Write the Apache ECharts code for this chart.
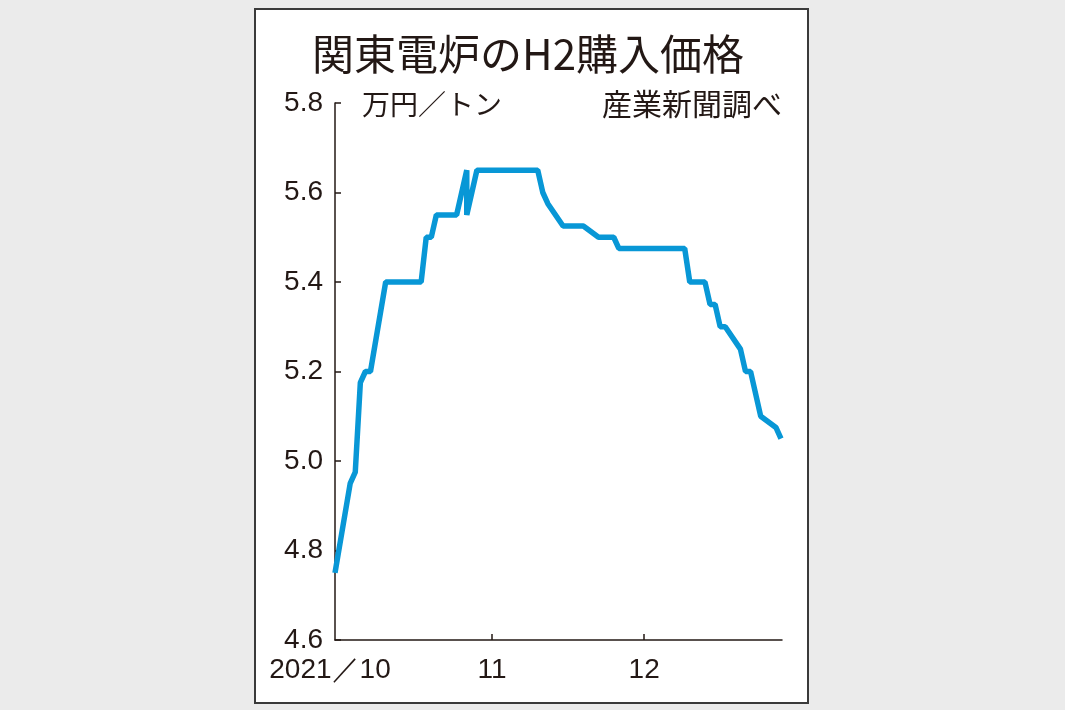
<!DOCTYPE html>
<html>
<head>
<meta charset="utf-8">
<script src="https://cdn.jsdelivr.net/npm/echarts@6/dist/echarts.min.js"></script>
<style>
html,body{margin:0;padding:0;background:#ebebeb;}
#c{width:1065px;height:710px;}
</style>
</head>
<body>
<div id="c"></div>
<script>
// ---- data ----
const dates = ['2021-10-01','2021-10-04','2021-10-05','2021-10-06','2021-10-07','2021-10-08','2021-10-11','2021-10-18','2021-10-19','2021-10-20','2021-10-21','2021-10-25','2021-10-27','2021-10-27','2021-10-29','2021-11-10','2021-11-11','2021-11-12','2021-11-15','2021-11-19','2021-11-22','2021-11-25','2021-11-26','2021-12-09','2021-12-10','2021-12-13','2021-12-14','2021-12-15','2021-12-16','2021-12-17','2021-12-20','2021-12-21','2021-12-22','2021-12-24','2021-12-27','2021-12-28'];
const prices = [4.75,4.95,4.975,5.175,5.2,5.2,5.4,5.4,5.5,5.5,5.55,5.55,5.65,5.55,5.65,5.65,5.6,5.575,5.525,5.525,5.5,5.5,5.475,5.475,5.4,5.4,5.35,5.35,5.3,5.3,5.25,5.2,5.2,5.1,5.075,5.05];
const monthTicks = ['2021-10-01','2021-11-01','2021-12-01'];
const monthLabels = ['2021／10','11','12'];
const xMin = '2021-10-01';
const xMax = '2021-12-28';
const yTicks = [4.6,4.8,5.0,5.2,5.4,5.6,5.8];
const titleText = '関東電炉のH2購入価格';
const unitText = '万円／トン';
const sourceText = '産業新聞調べ';

const DAY = 86400000;
const P = s => Date.UTC(+s.slice(0,4), +s.slice(5,7) - 1, +s.slice(8,10)) / DAY; // day number
const tickVals = monthTicks.map(P);
const seriesData = dates.map((d, i) => [P(d), prices[i]]);

const numFont = '"Liberation Sans Narrow", "Arial Narrow", "Liberation Sans", sans-serif';
const jpFont = '"Noto Sans CJK JP", sans-serif';
const ink = '#231815';

const chart = echarts.init(document.getElementById('c'), null, {renderer: 'canvas'});
chart.setOption({
  animation: false,
  backgroundColor: '#ebebeb',
  graphic: [
    {type: 'rect', z: -10, shape: {x: 255, y: 9, width: 553, height: 694},
     style: {fill: '#ffffff', stroke: '#3a3a3a', lineWidth: 2}},
    {type: 'text', x: 528, y: 54, z: 10,
     style: {text: titleText, font: '42px ' + jpFont, fill: ink, align: 'center', verticalAlign: 'middle'}},
    {type: 'text', x: 362, y: 104, z: 10,
     style: {text: unitText, font: '28px ' + jpFont, fill: ink, align: 'left', verticalAlign: 'middle'}},
    {type: 'text', x: 782, y: 104, z: 10,
     style: {text: sourceText, font: '30px ' + jpFont, fill: ink, align: 'right', verticalAlign: 'middle'}}
  ],
  grid: {left: 335, right: 283, top: 103, bottom: 70},
  xAxis: {
    type: 'value',
    min: P(xMin),
    max: P(xMax) + 0.2,
    splitLine: {show: false},
    axisLine: {show: true, lineStyle: {color: ink, width: 1.5}},
    axisTick: {show: true, inside: true, length: 6, customValues: tickVals.slice(1), lineStyle: {color: ink, width: 1.5}},
    axisLabel: {
      customValues: tickVals,
      formatter: function (v) {
        const i = tickVals.indexOf(v);
        if (i < 0) return '';
        return i === 0 ? '{a|' + monthLabels[i] + '}' : monthLabels[i];
      },
      rich: {a: {padding: [0, 10, 0, 0], fontSize: 28, fontFamily: numFont, color: ink}},
      color: ink, fontSize: 28, fontFamily: numFont, margin: 16
    }
  },
  yAxis: {
    type: 'value',
    min: 4.6, max: 5.8, interval: 0.2,
    splitLine: {show: false},
    axisLine: {show: true, lineStyle: {color: ink, width: 1.5}},
    axisTick: {show: true, inside: true, length: 6, customValues: yTicks, lineStyle: {color: ink, width: 1.5}},
    axisLabel: {
      customValues: yTicks,
      color: ink, fontSize: 28, fontFamily: numFont, margin: 12,
      formatter: v => (Math.round(v * 10) / 10).toFixed(1)
    }
  },
  series: [{
    type: 'line',
    data: seriesData,
    symbol: 'none',
    lineStyle: {color: '#0897d6', width: 5.5},
    z: 5
  }]
});
</script>
</body>
</html>
